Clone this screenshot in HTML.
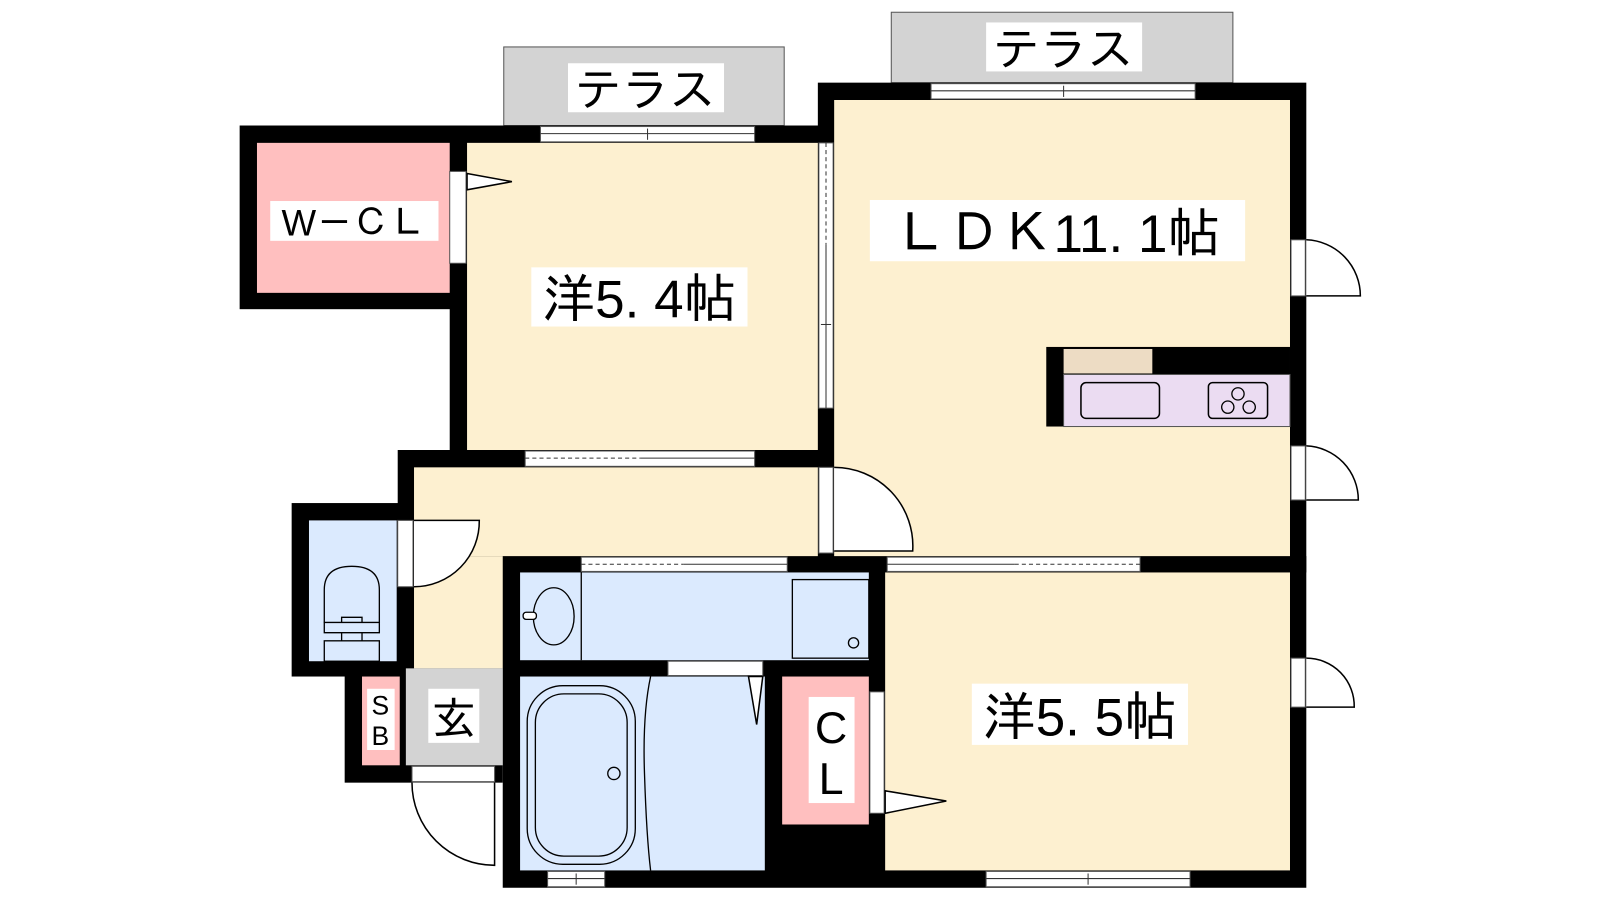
<!DOCTYPE html>
<html><head><meta charset="utf-8"><style>
html,body{margin:0;padding:0;background:#fff;}
svg{display:block;}
text{font-family:"Liberation Sans","IPAGothic","Noto Sans CJK JP",sans-serif;fill:#000;}
</style></head><body>
<svg width="1600" height="900" viewBox="0 0 1569 882" preserveAspectRatio="none" xmlns="http://www.w3.org/2000/svg">
<rect width="1569" height="882" fill="#fff"/>
<!-- terraces -->
<rect x="494" y="46" width="275" height="77" fill="#d3d3d3" stroke="#555" stroke-width="1"/>
<rect x="874" y="12" width="335" height="69" fill="#d3d3d3" stroke="#555" stroke-width="1"/>
<rect x="557" y="62" width="153" height="48" fill="#fff"/>
<text x="633" y="104" font-size="46" text-anchor="middle">テラス</text>
<rect x="967" y="22" width="153" height="48" fill="#fff"/>
<text x="1043" y="64" font-size="46" text-anchor="middle">テラス</text>

<!-- black wall masses -->
<rect x="235" y="123" width="223" height="180" fill="#000"/>
<rect x="441" y="123" width="377" height="335" fill="#000"/>
<rect x="802" y="81" width="479" height="480" fill="#000"/>
<rect x="390" y="441" width="428" height="214" fill="#000"/>
<rect x="286" y="493" width="120" height="170" fill="#000"/>
<rect x="338" y="655" width="155" height="112" fill="#000"/>
<rect x="493" y="545" width="788" height="325" fill="#000"/>

<!-- room fills -->
<rect x="252" y="140" width="189" height="147" fill="#ffbfbf"/>
<rect x="458" y="140" width="344" height="301" fill="#fdf0d0"/>
<rect x="818" y="98" width="447" height="447" fill="#fdf0d0"/>
<rect x="406" y="458" width="396" height="87" fill="#fdf0d0"/>
<rect x="406" y="545" width="87" height="110" fill="#fdf0d0"/>
<rect x="303" y="510" width="86" height="138" fill="#dbeafe"/>
<rect x="355" y="663" width="37" height="87" fill="#ffbfbf"/>
<rect x="398" y="655" width="95" height="95" fill="#d3d3d3"/>
<rect x="510" y="561" width="342" height="86" fill="#dbeafe"/>
<rect x="510" y="663" width="240" height="190" fill="#dbeafe"/>
<rect x="767" y="663" width="85" height="145" fill="#ffbfbf"/>
<rect x="868" y="561" width="397" height="292" fill="#fdf0d0"/>

<!-- kitchen -->
<rect x="1026" y="340" width="239" height="78" fill="#000"/>
<rect x="1043" y="342" width="87" height="24" fill="#eddcc4"/>
<rect x="1043" y="367" width="222" height="51" fill="#ebdcf2" stroke="#555" stroke-width="1"/>
<rect x="1060" y="375" width="77" height="35" rx="5" fill="none" stroke="#000" stroke-width="1.5"/>
<rect x="1185" y="375" width="58" height="35" rx="4" fill="none" stroke="#000" stroke-width="1.5"/>
<circle cx="1214" cy="386" r="6" fill="none" stroke="#000" stroke-width="1.3"/>
<circle cx="1204" cy="399" r="6" fill="none" stroke="#000" stroke-width="1.3"/>
<circle cx="1225" cy="399" r="6" fill="none" stroke="#000" stroke-width="1.3"/>

<!-- windows (white with lines) -->
<g fill="#fff" stroke="#555" stroke-width="1">
<rect x="530" y="124" width="210" height="15"/>
<rect x="913" y="82" width="259" height="15"/>
<rect x="803" y="140" width="14" height="260"/>
<rect x="515" y="442" width="225" height="15"/>
<rect x="870" y="546" width="248" height="14"/>
<rect x="570" y="546" width="202" height="14"/>
<rect x="655" y="648" width="93" height="14"/>
<rect x="967" y="854" width="200" height="15"/>
<rect x="537" y="854" width="56" height="15"/>
<rect x="441" y="168" width="16" height="90"/>
<rect x="803" y="458" width="14" height="84"/>
<rect x="390" y="510" width="15" height="65"/>
<rect x="404" y="751" width="81" height="15"/>
<rect x="853" y="678" width="14" height="119"/>
<rect x="1266" y="235" width="14" height="55"/>
<rect x="1266" y="437" width="14" height="53"/>
<rect x="1266" y="645" width="14" height="48"/>
</g>
<g stroke="#333" stroke-width="1" fill="none">
<line x1="530" y1="131" x2="740" y2="131"/><line x1="635" y1="126" x2="635" y2="137"/>
<line x1="913" y1="89" x2="1172" y2="89"/><line x1="1043" y1="84" x2="1043" y2="95"/>
<line x1="810" y1="140" x2="810" y2="240" stroke-dasharray="4,3"/><line x1="810" y1="240" x2="810" y2="400"/><line x1="805" y1="318" x2="815" y2="318"/>
<line x1="515" y1="449" x2="628" y2="449" stroke-dasharray="4,3"/><line x1="628" y1="449" x2="740" y2="449"/>
<line x1="870" y1="553" x2="995" y2="553"/><line x1="995" y1="553" x2="1118" y2="553" stroke-dasharray="4,3"/>
<line x1="570" y1="553" x2="670" y2="553" stroke-dasharray="4,3"/><line x1="670" y1="553" x2="772" y2="553"/>
<line x1="967" y1="861" x2="1167" y2="861"/><line x1="1067" y1="856" x2="1067" y2="867"/>
<line x1="537" y1="861" x2="593" y2="861"/><line x1="565" y1="856" x2="565" y2="867"/>
</g>
<!-- doors -->
<g stroke="#000" stroke-width="1.5" fill="#fff">
<path d="M818 458 A77 77 0 0 1 895 540 L818 540"/>
<path d="M406 510 L470 510 A64 64 0 0 1 406 575"/>
<path d="M404 767 A81 81 0 0 0 485 848 L485 767"/>
<path d="M1281 235 A55 55 0 0 1 1334 290 L1281 290"/>
<path d="M1281 437 A53 53 0 0 1 1332 490 L1281 490"/>
<path d="M1281 645 A47 47 0 0 1 1328 693 L1281 693"/>
<path d="M458 170 L502 178 L458 186 Z"/>
<path d="M868 775 L928 785 L868 797 Z"/>
<path d="M734 663 L742 710 L748 663 Z"/>
</g>
<!-- toilet -->
<g stroke="#000" stroke-width="1.3" fill="none">
<path d="M318 610 L318 578 Q318 555 345 555 Q372 555 372 578 L372 610"/>
<path d="M318 610 L372 610 L372 620 L318 620 Z"/>
<path d="M335 610 L335 605 L355 605 L355 610"/>
<rect x="318" y="628" width="54" height="20"/>
<line x1="335" y1="620" x2="335" y2="628"/><line x1="355" y1="620" x2="355" y2="628"/>
<!-- wash -->
<line x1="570" y1="561" x2="570" y2="647"/>
<ellipse cx="543" cy="604" rx="20" ry="28"/>
<rect x="513" y="600" width="13" height="7" rx="3" fill="#fff"/>
<rect x="777" y="568" width="75" height="77"/>
<circle cx="837" cy="630" r="5"/>
<!-- bath -->
<rect x="517" y="672" width="106" height="175" rx="35"/>
<rect x="525" y="680" width="90" height="159" rx="28"/>
<circle cx="602" cy="758" r="6"/>
<path d="M638 663 Q630 700 632 758 Q634 820 638 853"/>
</g>
<!-- labels -->
<rect x="265" y="197" width="165" height="39" fill="#fff"/>
<text x="347" y="231" font-size="36" text-anchor="middle">W－ＣＬ</text>
<rect x="521" y="262" width="212" height="58" fill="#fff"/>
<text x="627" y="311" font-size="52" text-anchor="middle">洋5. 4帖</text>
<rect x="853" y="196" width="368" height="60" fill="#fff"/>
<text x="1037" y="247" font-size="52" text-anchor="middle">ＬＤＫ11. 1帖</text>
<rect x="953" y="670" width="212" height="60" fill="#fff"/>
<text x="1059" y="721" font-size="52" text-anchor="middle">洋5. 5帖</text>
<rect x="793" y="683" width="45" height="104" fill="#fff"/>
<text x="815" y="728" font-size="44" text-anchor="middle">C</text>
<text x="815" y="778" font-size="44" text-anchor="middle">L</text>
<rect x="360" y="675" width="27" height="60" fill="#fff"/>
<text x="373" y="700" font-size="26" text-anchor="middle">S</text>
<text x="373" y="730" font-size="26" text-anchor="middle">B</text>
<rect x="420" y="675" width="50" height="53" fill="#fff"/>
<text x="445" y="720" font-size="44" text-anchor="middle">玄</text>
</svg>
</body></html>
